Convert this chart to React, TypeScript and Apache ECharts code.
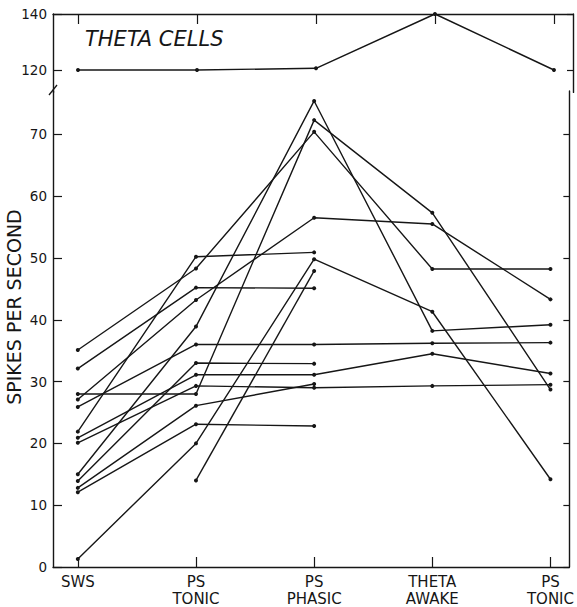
import React, { useEffect, useRef } from "react";
import * as echarts from "echarts";

// Categories (x) and tick labels
const categories = ["SWS", "PS\nTONIC", "PS\nPHASIC", "THETA\nAWAKE", "PS\nTONIC"];
const yTicksLower = [0, 10, 20, 30, 40, 50, 60, 70];
const yTicksUpper = [120, 140];

// Upper (broken-axis) cell
const cellTop = [120, 120, 120.6, 140, 120];

// Lower cells (spikes per second), null = not recorded
const cellA = [35.1, 48.3, 70.4, 48.2, 48.2];
const cellB = [32.1, 45.2, 45.1, null, null];
const cellC = [28.0, 28.0, 72.3, 57.3, 28.7];
const cellD = [27.1, 43.2, 56.5, 55.5, 43.3];
const cellE = [25.9, 36.0, 36.0, 36.2, 36.3];
const cellF = [21.9, 50.2, 50.9, null, null];
const cellG = [20.9, 31.1, 31.1, 34.5, 31.3];
const cellH = [20.1, 29.3, 29.0, 29.3, 29.5];
const cellI = [15.0, 38.9, 75.4, 38.2, 39.2];
const cellJ = [13.9, 33.0, 32.9, null, null];
const cellK = [12.8, 26.1, 29.6, null, null];
const cellL = [12.1, 23.1, 22.8, null, null];
const cellM = [1.3, 20.0, 49.8, 41.3, 14.2];
const cellN = [null, 14.0, 47.9, null, null];

const lowerCells = [cellA, cellB, cellC, cellD, cellE, cellF, cellG, cellH, cellI, cellJ, cellK, cellL, cellM, cellN];

const INK = "#161616";
const FONT = "DejaVu Sans";

function toPairs(vals: (number | null)[]) {
  return vals
    .map((v, i) => [i, v] as [number, number | null])
    .filter((d) => d[1] !== null);
}

export default function App() {
  const ref = useRef<HTMLDivElement>(null);

  useEffect(() => {
    if (!ref.current) return;
    const chart = echarts.init(ref.current, undefined, { renderer: "svg" });

    const xMin = -0.21;
    const xMax = 4.16;
    const catIdx = categories.map((_, i) => i);

    const lineSeries = (vals: (number | null)[], xi: number, yi: number, name: string) => ({
      type: "line",
      name,
      xAxisIndex: xi,
      yAxisIndex: yi,
      data: toPairs(vals),
      symbol: "circle",
      symbolSize: 4,
      showSymbol: true,
      lineStyle: { color: INK, width: 1.4 },
      itemStyle: { color: INK },
      silent: true,
    });

    const axisLine = { show: true, onZero: false, lineStyle: { color: INK, width: 1.4 } };

    const option: any = {
      animation: false,
      backgroundColor: "#ffffff",
      grid: [
        { left: 53, right: 4, top: 91.06, height: 477.94, containLabel: false },
        { left: 53, right: 4, top: 14, height: 78.4, containLabel: false },
      ],
      xAxis: [
        {
          type: "value",
          gridIndex: 0,
          position: "bottom",
          min: xMin,
          max: xMax,
          axisLine,
          splitLine: { show: false },
          axisTick: { show: true, inside: true, length: 10, customValues: catIdx, lineStyle: { color: INK, width: 1.2 } },
          axisLabel: {
            show: true,
            customValues: catIdx,
            formatter: (v: number) => categories[Math.round(v)] ?? "",
            margin: 6,
            color: INK,
            fontFamily: FONT,
            fontSize: 15,
            lineHeight: 17,
            verticalAlign: "top",
          },
        },
        {
          type: "value",
          gridIndex: 1,
          position: "top",
          min: xMin,
          max: xMax,
          axisLine,
          splitLine: { show: false },
          axisTick: { show: true, inside: true, length: 10, customValues: catIdx, lineStyle: { color: INK, width: 1.2 } },
          axisLabel: { show: false },
        },
      ],
      yAxis: [
        {
          type: "value",
          gridIndex: 0,
          position: "left",
          min: 0,
          max: 77,
          axisLine,
          splitLine: { show: false },
          axisTick: { show: true, inside: true, length: 9, customValues: yTicksLower, lineStyle: { color: INK, width: 1.2 } },
          axisLabel: { show: true, customValues: yTicksLower, margin: 6, color: INK, fontFamily: FONT, fontSize: 13.5 },
        },
        {
          type: "value",
          gridIndex: 0,
          position: "right",
          min: 0,
          max: 77,
          axisLine,
          splitLine: { show: false },
          axisTick: { show: true, inside: true, length: 6, customValues: yTicksLower, lineStyle: { color: INK, width: 1.2 } },
          axisLabel: { show: false },
        },
        {
          type: "value",
          gridIndex: 1,
          position: "left",
          min: 112,
          max: 140,
          axisLine,
          splitLine: { show: false },
          axisTick: { show: true, inside: true, length: 9, customValues: yTicksUpper, lineStyle: { color: INK, width: 1.2 } },
          axisLabel: { show: true, customValues: yTicksUpper, margin: 6, color: INK, fontFamily: FONT, fontSize: 13.5 },
        },
        {
          type: "value",
          gridIndex: 1,
          position: "right",
          min: 112,
          max: 140,
          axisLine,
          splitLine: { show: false },
          axisTick: { show: true, inside: true, length: 6, customValues: yTicksUpper, lineStyle: { color: INK, width: 1.2 } },
          axisLabel: { show: false },
        },
      ],
      series: [
        lineSeries(cellTop, 1, 2, "top"),
        ...lowerCells.map((c, k) => lineSeries(c, 0, 0, "cell" + k)),
      ],
      graphic: [
        {
          type: "text",
          left: 85,
          top: 28,
          style: {
            text: "THETA CELLS",
            fill: INK,
            font: `italic 21px "${FONT}"`,
          },
        },
        {
          type: "text",
          x: 14,
          y: 307,
          rotation: Math.PI / 2,
          style: {
            text: "SPIKES PER SECOND",
            fill: INK,
            font: `19px "${FONT}"`,
            align: "center",
            verticalAlign: "middle",
          },
        },
        {
          type: "line",
          shape: { x1: 49, y1: 95, x2: 57, y2: 85 },
          style: { stroke: INK, lineWidth: 1.3 },
        },
      ],
    };

    chart.setOption(option);
    return () => chart.dispose();
  }, []);

  return (
    <div
      ref={ref}
      style={{ position: "fixed", left: 0, top: 0, width: 577, height: 607, background: "#fff" }}
    />
  );
}
